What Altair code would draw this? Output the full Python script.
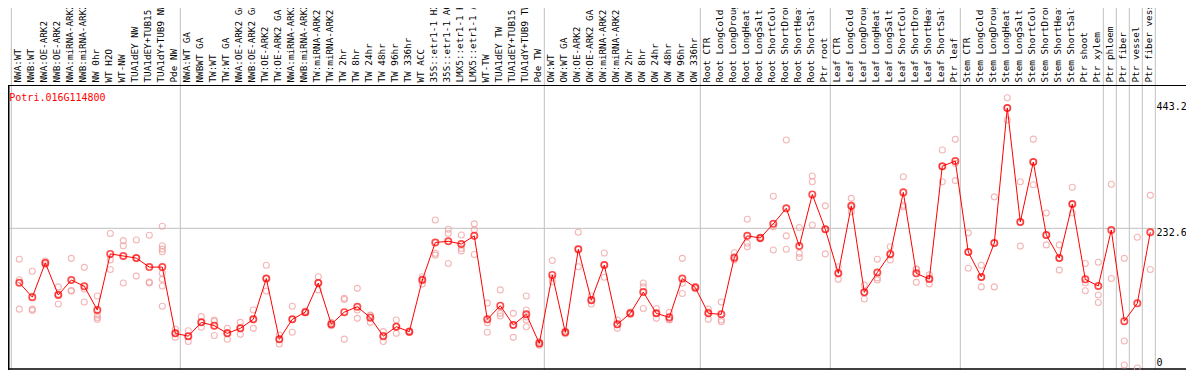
import altair as alt
import pandas as pd

gene_id = "Potri.016G114800"

categories = [
    "NWA:WT", "NWB:WT", "NWA:OE-ARK2", "NWB:OE-ARK2", "NWA:miRNA-ARK2", "NWB:miRNA-ARK2",
    "NW 0hr", "WT H2O", "WT-NW", "TUA1dEY NW", "TUA1dEY+TUB15", "TUA1dY+TUB9 NW", "Pde NW",
    "NWA:WT GA", "NWBWT GA", "TW:WT", "TW:WT GA", "NWA:OE-ARK2 GA", "NWB:OE-ARK2 GA",
    "TW:OE-ARK2", "TW:OE-ARK2 GA", "NWA:miRNA-ARK2", "NWB:miRNA-ARK2", "TW:miRNA-ARK2",
    "TW:miRNA-ARK2", "TW 2hr", "TW 8hr", "TW 24hr", "TW 48hr", "TW 96hr", "TW 336hr",
    "WT ACC", "35S::etr1-1 H2O", "35S::etr1-1 ACC", "LMX5::etr1-1 H2O", "LMX5::etr1-1 ACC",
    "WT-TW", "TUA1dEY TW", "TUA1dEY+TUB15", "TUA1dY+TUB9 TW", "Pde TW",
    "OW:WT", "OW:WT GA", "OW:OE-ARK2", "OW:OE-ARK2 GA", "OW:miRNA-ARK2", "OW:miRNA-ARK2",
    "OW 2hr", "OW 8hr", "OW 24hr", "OW 48hr", "OW 96hr", "OW 336hr",
    "Root CTR", "Root LongCold", "Root LongDrought", "Root LongHeat", "Root LongSalt",
    "Root ShortCold", "Root ShortDrought", "Root ShortHeat", "Root ShortSalt", "Ptr root",
    "Leaf CTR", "Leaf LongCold", "Leaf LongDrought", "Leaf LongHeat", "Leaf LongSalt",
    "Leaf ShortCold", "Leaf ShortDrought", "Leaf ShortHeat", "Leaf ShortSalt", "Ptr leaf",
    "Stem CTR", "Stem LongCold", "Stem LongDrought", "Stem LongHeat", "Stem LongSalt",
    "Stem ShortCold", "Stem ShortDrought", "Stem ShortHeat", "Stem ShortSalt", "Ptr shoot",
    "Ptr xylem", "Ptr phloem", "Ptr fiber", "Ptr vessel", "Ptr fiber vessel",
]

means = [
    142, 118, 175, 121.5, 146.5, 136, 96.6, 190, 186.5, 183, 168, 168, 57.7,
    53, 76, 70.5, 57.7, 66, 81, 149, 47.8, 81, 93, 141.5, 73, 93, 102, 83.8, 53, 68.8,
    60.5, 146.5, 209, 211, 206.5, 220, 81, 103.8, 71.6, 89.4, 41,
    155, 59.4, 197.6, 113, 171.5, 72.7, 91, 126.5, 91, 84.3, 149, 134,
    91, 89.4, 184, 220, 216.5, 240, 266, 203, 289, 231,
    157.6, 270, 126, 159, 190, 292.4, 157.6, 148, 336, 344.6,
    193, 151.5, 208, 433, 243, 343, 221.5, 183, 273, 147.6,
    136.5, 229.8, 78, 107.7, 226,
]

replicates = [
    [181, 98, 147], [161, 98, 96], [178, 172, 175], [135, 106.5, 123], [182.6, 128, 129],
    [167.6, 131.5, 110], [120, 88, 81, 84], [224, 180, 164], [212, 203.6, 141.5],
    [213, 153, 183], [221, 143, 141.5],
    [236, 203.6, 198, 193.6, 157.6, 147.6, 136.5, 102.7], [64.4, 51, 58],
    [62, 44, 53], [85.5, 67.8, 76], [80, 54, 78], [66, 47.8, 59], [76, 56, 66],
    [96.6, 66, 81], [171, 128, 149], [55, 40, 48], [102.7, 59.4, 81], [95, 92, 93],
    [152, 130, 142], [76, 70.5, 73], [116, 114, 48], [132.6, 96.6, 82.7], [87, 76, 88],
    [60.5, 44, 54], [80, 57.7, 69], [62, 59, 60.5], [152, 140, 148], [246.4, 191, 188],
    [231, 224, 174], [221.5, 199, 195], [240, 230, 189], [108, 75.5, 59.4],
    [130, 91, 86.6], [91, 51, 72], [120, 96.6, 80, 68.8, 85], [44, 38, 41],
    [179, 143.7, 150], [62, 57, 59], [226, 168.7, 198], [120, 106.5, 113],
    [191.5, 151, 172], [80, 66, 72], [93, 89, 91], [141.5, 135, 99], [99, 82.7, 91],
    [92.7, 81, 80], [182.6, 141, 124], [136, 132, 134],
    [98, 81, 93], [110, 80, 77], [192, 180, 182], [247.6, 207.6, 202], [218, 215, 216.5],
    [286, 235, 196.5], [379.6, 220, 197.6], [234, 191, 184], [319.7, 310, 238],
    [270, 190, 231],
    [168.7, 147.6, 158], [282.5, 260, 268], [138, 115, 126], [181, 146.5, 150],
    [202, 180, 188], [318.5, 271, 268.6], [164, 142.6, 165], [155, 140, 149],
    [363, 310, 335], [380.7, 312, 341],
    [225, 166, 193], [171, 135, 151], [285, 135, 208], [450, 413, 433], [310, 203, 243],
    [381, 305, 343], [258, 205, 221], [205, 163, 183], [301, 258, 273],
    [174, 142, 128.7],
    [176, 121.5, 109], [306, 149], [182.6, 45, 5], [217.6, 0], [287.5, 164],
]

separator_before = [0, 13, 41, 53, 63, 73, 84, 85, 86, 87]
separator_after = [87]
y_tick_values = [0, 232.6, 443.2]
grid_values = [232.6]

W = 1153.6
H = 283
TOTAL_W = 1178
FONT = "DejaVu Sans Mono"

idx = list(range(len(categories)))
mean_df = pd.DataFrame({"idx": idx, "name": categories, "value": means})
rep_df = pd.DataFrame(
    [{"idx": i, "value": v} for i, reps in enumerate(replicates) for v in reps]
)

xs = alt.Scale(type="point", padding=0.869, domain=idx)
ys = alt.Scale(domain=[0, 471.2], nice=False, zero=True)
X = alt.X("idx:O", scale=xs, axis=None)
Y = alt.Y("value:Q", scale=ys, axis=None)

base_mean = alt.Chart(mean_df)

labels = base_mean.mark_text(
    angle=270, align="left", baseline="middle", font=FONT, fontSize=9.3,
    color="black", xOffset=-1,
).encode(x=X, y=alt.value(-2.5), text="name:N")

sep1 = alt.Chart(pd.DataFrame({"idx": separator_before})).mark_rule(
    color="#c0c0c0", strokeWidth=1, xOffset=-8
).encode(x=X, y=alt.value(-90), y2=alt.value(H + 3))
sep2 = alt.Chart(pd.DataFrame({"idx": separator_after})).mark_rule(
    color="#c0c0c0", strokeWidth=1, xOffset=5
).encode(x=X, y=alt.value(-90), y2=alt.value(H + 3))

grid = alt.Chart(pd.DataFrame({"value": grid_values})).mark_rule(
    color="#c0c0c0", strokeWidth=1
).encode(y=Y, x=alt.value(0), x2=alt.value(W - 5))

top_line = alt.Chart(pd.DataFrame({"value": [0]})).mark_rule(
    color="black", strokeWidth=1
).encode(x=alt.value(0), x2=alt.value(TOTAL_W), y=alt.value(0.5))
bottom_line = alt.Chart(pd.DataFrame({"value": [0]})).mark_rule(
    color="black", strokeWidth=1.5
).encode(x=alt.value(0), x2=alt.value(TOTAL_W), y=alt.value(H + 1))
left_line = alt.Chart(pd.DataFrame({"value": [0]})).mark_rule(
    color="black", strokeWidth=1.5
).encode(x=alt.value(0.75), y=alt.value(0), y2=alt.value(H + 2))

tick_df = pd.DataFrame({"value": y_tick_values, "label": [str(v) for v in y_tick_values]})
ylab_top = alt.Chart(tick_df[tick_df["value"] > 0]).mark_text(
    align="left", baseline="top", font=FONT, fontSize=10, color="black"
).encode(y=Y, x=alt.value(W - 5), text="label:N")
ylab_bot = alt.Chart(tick_df[tick_df["value"] == 0]).mark_text(
    align="left", baseline="bottom", font=FONT, fontSize=10, color="black"
).encode(y=Y, x=alt.value(W - 5), text="label:N")

title = alt.Chart(pd.DataFrame({"t": [gene_id]})).mark_text(
    align="left", baseline="alphabetic", font=FONT, fontSize=10, color="red"
).encode(x=alt.value(1.3), y=alt.value(15.7), text="t:N")

reps = alt.Chart(rep_df).mark_point(
    shape="circle", filled=False, color="#f09a9a", size=36, strokeWidth=1.1
).encode(x=X, y=Y)
line = base_mean.mark_line(color="red", strokeWidth=1).encode(x=X, y=Y)
pts = base_mean.mark_point(
    shape="circle", filled=False, color="red", size=40, strokeWidth=1.7
).encode(x=X, y=Y)

chart = alt.layer(
    sep1, sep2, grid, top_line, bottom_line, left_line, labels, title,
    ylab_top, ylab_bot, reps, line, pts
).properties(
    width=W, height=H,
    autosize=alt.AutoSizeParams(type="none"),
    padding={"left": 0, "top": 77, "right": TOTAL_W - W, "bottom": 2},
    background="white",
).configure_view(strokeWidth=0)

chart.save("out.html", embed_options={"renderer": "svg", "actions": False})
